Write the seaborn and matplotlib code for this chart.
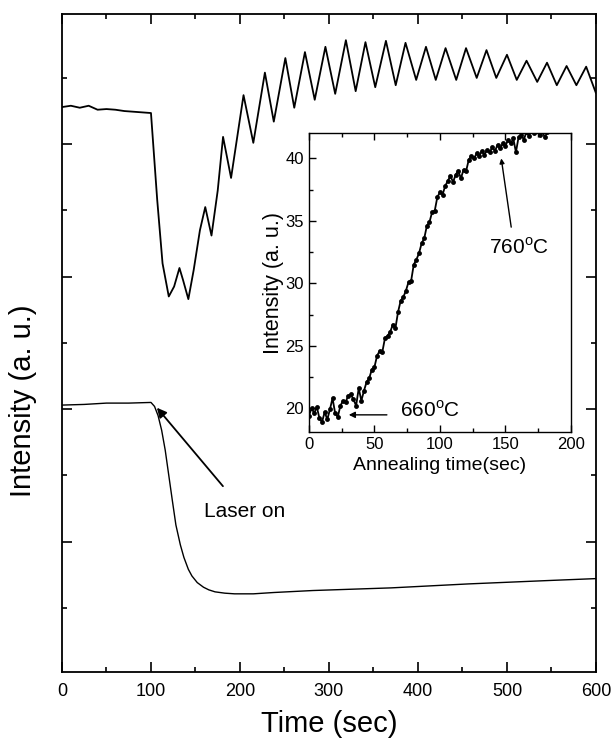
import matplotlib
matplotlib.use("Agg")
import matplotlib.pyplot as plt
from matplotlib.ticker import MultipleLocator
import pandas as pd
import seaborn as sns

sns.set_theme(style="ticks")
plt.rcParams['font.family'] = ['Liberation Sans', 'DejaVu Sans']
plt.rcParams['mathtext.fontset'] = 'custom'
plt.rcParams['mathtext.rm'] = 'Liberation Sans'
for k in ["text.color", "axes.labelcolor", "xtick.color", "ytick.color", "axes.edgecolor"]:
    plt.rcParams[k] = "black"

# upper trace (RHEED-like oscillations)
upper_t = [0, 10, 20, 30, 40, 50, 60, 70, 80, 90, 100,
           107, 113, 120, 126, 132, 136, 142, 148, 155, 161, 168, 175,
           181, 190, 204, 215, 228, 238, 251, 261, 273, 284, 296, 307,
           319, 330, 341, 352, 364, 375, 386, 398, 409, 420, 431, 443,
           454, 466, 477, 488, 500, 511, 522, 534, 545, 556, 567, 578,
           589, 600]
upper_i = [8.56, 8.58, 8.55, 8.58, 8.52, 8.53, 8.52, 8.50, 8.49, 8.48, 8.47,
           7.16, 6.20, 5.70, 5.85, 6.13, 5.95, 5.66, 6.10, 6.70, 7.05, 6.62, 7.30,
           8.11, 7.49, 8.74, 8.02, 9.08, 8.34, 9.30, 8.55, 9.39, 8.67, 9.47, 8.76,
           9.57, 8.80, 9.54, 8.86, 9.56, 8.89, 9.53, 8.97, 9.47, 8.97, 9.45, 8.97,
           9.45, 9.00, 9.42, 9.00, 9.35, 8.97, 9.26, 8.94, 9.23, 8.89, 9.18, 8.89,
           9.17, 8.77]

# lower trace
lower_t = [0, 25, 50, 75, 100, 104, 108, 112, 116, 120, 124, 128, 133, 137, 142,
           146, 152, 159, 165, 172, 183, 194, 215, 238, 282, 370, 457, 545, 600]
lower_i = [4.06, 4.07, 4.09, 4.09, 4.10, 4.04, 3.90, 3.68, 3.38, 3.00, 2.62, 2.25,
           1.95, 1.76, 1.58, 1.48, 1.38, 1.31, 1.27, 1.24, 1.22, 1.21, 1.21, 1.23,
           1.26, 1.30, 1.36, 1.41, 1.44]

# inset: intensity vs annealing time
ann_t = [0, 2, 4, 6, 8, 10, 12, 14, 16, 18, 20, 22, 24, 26, 28, 30, 32, 34, 36, 38,
         40, 42, 44, 46, 48, 50, 52, 54, 56, 58, 60, 62, 64, 66, 68, 70, 72, 74, 76, 78,
         80, 82, 84, 86, 88, 90, 92, 94, 96, 98, 100, 102, 104, 106, 108, 110, 112, 114,
         116, 118, 120, 122, 124, 126, 128, 130, 132, 134, 136, 138, 140, 142, 144, 146,
         148, 150, 152, 154, 156, 158, 160, 162, 164, 166, 168, 170, 172, 174, 176, 178,
         180, 182, 184, 186]
ann_i = [19.4, 20.0, 19.6, 20.1, 19.2, 18.9, 19.7, 19.1, 19.9, 20.8, 19.6, 19.3, 20.2, 20.6, 20.5, 21.0, 21.1, 20.7, 20.2, 21.6,
         20.6, 21.4, 22.1, 22.4, 23.1, 23.3, 24.2, 24.6, 24.5, 25.6, 25.8, 26.1, 26.7, 26.4, 27.7, 28.6, 28.9, 29.4, 30.1, 30.2,
         31.5, 31.9, 32.4, 33.2, 33.6, 34.6, 34.9, 35.7, 35.8, 36.9, 37.3, 37.1, 37.8, 38.2, 38.6, 38.1, 38.7, 39.0,
         38.4, 39.1, 39.0, 39.9, 40.2, 40.0, 40.4, 40.2, 40.6, 40.3, 40.7, 40.5, 40.9, 40.6, 41.1, 40.8,
         41.2, 41.0, 41.5, 41.2, 41.6, 40.5, 41.7, 41.9, 41.5, 42.1, 41.8, 42.3, 42.0, 42.4, 41.9, 42.2,
         41.7, 42.1, 42.5, 42.3]

up = pd.DataFrame({"t": upper_t, "i": upper_i})
lo = pd.DataFrame({"t": lower_t, "i": lower_i})
ann = pd.DataFrame({"t": ann_t, "i": ann_i})

fig = plt.figure(figsize=(6.13, 7.44), dpi=100)
ax = fig.add_axes([0.1011, 0.0968, 0.8711, 0.8848])

sns.lineplot(data=up, x="t", y="i", ax=ax, color="black", lw=1.3)
sns.lineplot(data=lo, x="t", y="i", ax=ax, color="black", lw=1.0)

ax.set_xlim(0, 600)
ax.set_ylim(0.03, 9.97)
ax.xaxis.set_major_locator(MultipleLocator(100))
ax.xaxis.set_minor_locator(MultipleLocator(50))
ax.yaxis.set_major_locator(MultipleLocator(2))
ax.yaxis.set_minor_locator(MultipleLocator(1))
ax.tick_params(which="both", direction="in", top=True, right=True, width=1.2)
ax.tick_params(which="major", length=7)
ax.tick_params(which="minor", length=3.6)
ax.tick_params(axis="x", labelsize=13, pad=8)
ax.tick_params(axis="y", labelleft=False)
for s in ax.spines.values():
    s.set_linewidth(1.3)
ax.set_xlabel("Time (sec)", fontsize=21, labelpad=7)
ax.set_ylabel("Intensity (a. u.)", fontsize=21)
ax.yaxis.set_label_coords(-0.046, 0.412)

ax.annotate("Laser on", xy=(106.7, 4.02), xytext=(205, 2.45),
            fontsize=15, ha="center", va="center",
            arrowprops=dict(arrowstyle="-|>", color="black", lw=1.3,
                            mutation_scale=14, shrinkA=12, shrinkB=0))

# inset
ins = fig.add_axes([0.504, 0.4194, 0.4274, 0.4012])
sns.lineplot(data=ann, x="t", y="i", ax=ins, color="black", lw=1.3,
             marker="o", markersize=3.5, markeredgewidth=0)
ins.set_xlim(0, 200)
ins.set_ylim(18.1, 42)
ins.xaxis.set_major_locator(MultipleLocator(50))
ins.xaxis.set_minor_locator(MultipleLocator(25))
ins.yaxis.set_major_locator(MultipleLocator(5))
ins.yaxis.set_minor_locator(MultipleLocator(2.5))
ins.tick_params(which="both", direction="in", top=True, right=False, width=1.0, labelsize=12)
ins.tick_params(which="major", length=5)
ins.tick_params(which="minor", length=3)
for s in ins.spines.values():
    s.set_linewidth(1.0)
ins.set_xlabel("Annealing time(sec)", fontsize=14, labelpad=4)
ins.set_ylabel("Intensity (a. u.)", fontsize=15.5, labelpad=1)

ins.annotate("", xy=(30.4, 19.47), xytext=(59.5, 19.47),
             arrowprops=dict(arrowstyle="-|>", color="black", lw=1.0,
                             mutation_scale=9, shrinkA=0, shrinkB=0))
ins.text(69.6, 19.8, "660$^{\\rm o}$C", fontsize=15, ha="left", va="center")
ins.annotate("", xy=(146.8, 40.0), xytext=(154.4, 34.5),
             arrowprops=dict(arrowstyle="-|>", color="black", lw=1.0,
                             mutation_scale=7, shrinkA=0, shrinkB=0))
ins.text(160, 32.9, "760$^{\\rm o}$C", fontsize=15, ha="center", va="center")

fig.savefig("out.png", dpi=100)
